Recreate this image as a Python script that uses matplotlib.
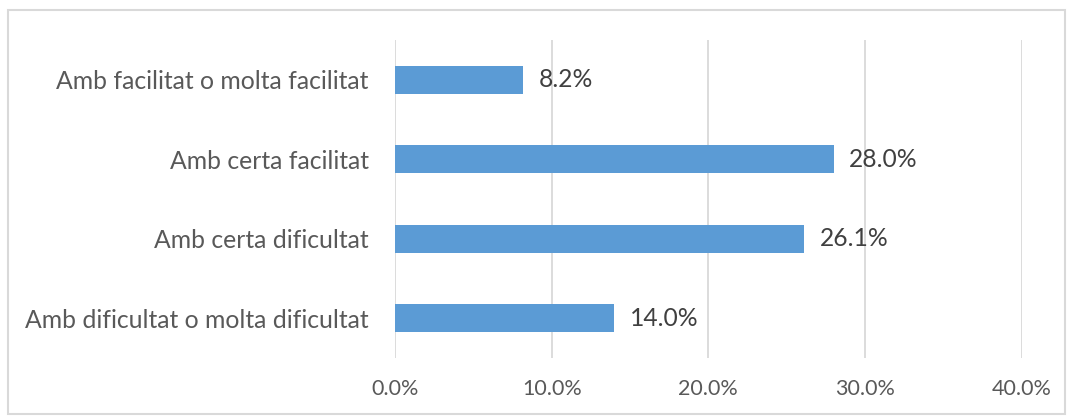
import matplotlib
matplotlib.use("Agg")
import matplotlib.pyplot as plt
from matplotlib.patches import Rectangle
from matplotlib.ticker import FuncFormatter

categories = [
    "Amb dificultat o molta dificultat",
    "Amb certa dificultat",
    "Amb certa facilitat",
    "Amb facilitat o molta facilitat",
]
values = [14.0, 26.1, 28.0, 8.2]
x_ticks = [0, 10, 20, 30, 40]

plt.rcParams["font.family"] = ["Lato", "DejaVu Sans"]

W, H = 1067, 416
fig = plt.figure(figsize=(W / 100, H / 100), dpi=100)
fig.patch.set_facecolor("white")

# light outer frame around the chart
fig.add_artist(Rectangle((8 / W, 2 / H), 1057 / W, 404 / H, transform=fig.transFigure,
                         fill=False, edgecolor="#d9d9d9", linewidth=1.5))

ax = fig.add_axes([395 / W, (H - 358) / H, (1021.7 - 395) / W, (358 - 40) / H])

ypos = list(range(len(categories)))
ax.barh(ypos, values, height=0.35, color="#5b9bd5", zorder=3)

for y, v in zip(ypos, values):
    ax.text(v + 1.0, y, f"{v:.1f}%", va="center", ha="left",
            fontsize=17.7, color="#404040")

ax.set_xlim(0, 40)
ax.set_ylim(-0.5, 3.5)
ax.set_xticks(x_ticks)
ax.xaxis.set_major_formatter(FuncFormatter(lambda v, p: f"{v:.1f}%"))
ax.set_yticks(ypos)
ax.set_yticklabels(categories, fontsize=17.8)

ax.grid(axis="x", color="#d9d9d9", linewidth=1.3, zorder=0)
for s in ax.spines.values():
    s.set_visible(False)
ax.tick_params(axis="both", length=0, colors="#595959")
ax.tick_params(axis="x", pad=15, labelsize=15.5)
ax.tick_params(axis="y", pad=19)

fig.savefig("out.png", dpi=100, facecolor="white")
